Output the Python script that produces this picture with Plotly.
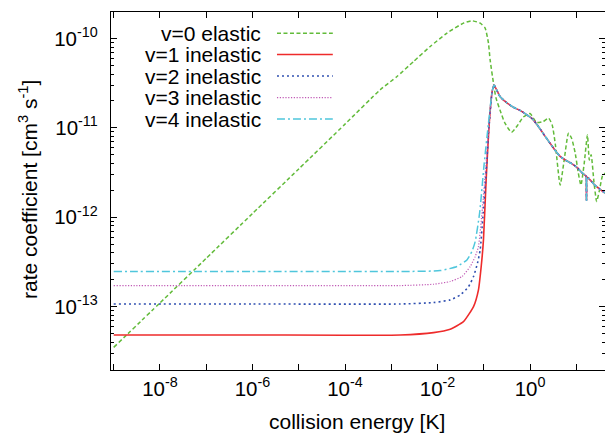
import plotly.graph_objects as go

# ---------------- data ----------------
elastic_E = [1e-9, 1e-8, 1e-7, 1e-6, 1e-5, 1e-4, 5.79e-4, 1.33e-3, 3.03e-3, 6.95e-3,
             1.596e-2, 3.65e-2, 5.53e-2, 8.36e-2, 0.107, 0.126, 0.137, 0.162, 0.182, 0.224,
             0.282, 0.398, 0.525, 0.708, 1.0, 1.38, 1.91, 2.51, 3.02,
             3.55, 4.47, 5.50, 6.76, 7.94, 9.44, 11.0, 12.6, 14.8, 17.4,
             19.1, 20.9, 24.0, 27.5, 31.6, 37.2, 44.7]
elastic_k = [3.50e-14, 1.10e-13, 3.47e-13, 1.10e-12, 3.47e-12, 1.10e-11, 2.67e-11, 3.75e-11, 5.52e-11, 8.13e-11,
             1.148e-10, 1.486e-10, 1.578e-10, 1.486e-10, 1.306e-10, 8.91e-11, 5.75e-11, 3.16e-11, 2.19e-11, 1.585e-11,
             1.148e-11, 8.91e-12, 1.047e-11, 1.318e-11, 1.445e-11, 1.148e-11, 1.175e-11, 1.288e-11, 1.072e-11,
             6.31e-12, 2.29e-12, 4.47e-12, 8.71e-12, 7.59e-12, 5.25e-12, 3.16e-12, 2.29e-12, 3.98e-12, 8.32e-12,
             4.37e-12, 5.01e-12, 2.51e-12, 1.50e-12, 2.0e-12, 2.95e-12, 3.16e-12]

# common high-energy tail shared by the inelastic curves
tail_E = [0.166, 0.224, 0.316, 0.437, 0.631, 0.851, 1.122, 1.514, 2.29, 3.47,
          4.47, 5.75, 7.94, 10.2, 13.2, 16.2, 16.6, 17.0, 25.1, 41.7]
tail_k = [3.02e-11, 2.24e-11, 1.905e-11, 1.70e-11, 1.55e-11, 1.40e-11, 1.26e-11, 1.035e-11, 7.59e-12, 5.62e-12,
          4.79e-12, 4.37e-12, 3.98e-12, 3.63e-12, 3.16e-12, 2.88e-12, 1.55e-12, 2.82e-12, 2.29e-12, 1.86e-12]

v1_E = [1e-9, 1e-6, 1.56e-3, 8.20e-3, 1.88e-2, 3.63e-2, 6.00e-2, 7.67e-2, 8.79e-2, 9.84e-2, 0.112, 0.129, 0.151]
v1_k = [4.82e-14, 4.82e-14, 4.82e-14, 5.12e-14, 5.58e-14, 6.79e-14, 1.0e-13, 1.54e-13, 2.81e-13, 5.62e-13, 2.51e-12, 1.0e-11, 2.51e-11]

v2_E = [1e-9, 1e-6, 1.56e-3, 8.20e-3, 1.88e-2, 3.09e-2, 4.68e-2, 6.00e-2, 7.31e-2, 8.36e-2, 9.55e-2, 0.112, 0.129, 0.151]
v2_k = [1.07e-13, 1.07e-13, 1.07e-13, 1.11e-13, 1.19e-13, 1.35e-13, 1.67e-13, 2.17e-13, 3.06e-13, 4.32e-13, 1.0e-12, 3.16e-12, 1.0e-11, 2.51e-11]

v3_E = [1e-9, 1e-6, 1.56e-3, 8.20e-3, 1.88e-2, 3.37e-2, 5.08e-2, 6.52e-2, 7.67e-2, 9.33e-2, 0.110, 0.129, 0.151]
v3_k = [1.72e-13, 1.72e-13, 1.72e-13, 1.78e-13, 1.91e-13, 2.17e-13, 2.81e-13, 3.63e-13, 4.70e-13, 1.26e-12, 3.55e-12, 1.0e-11, 2.51e-11]

v4_E = [1e-9, 1e-6, 1.56e-3, 1.14e-2, 2.62e-2, 4.32e-2, 5.53e-2, 6.52e-2, 8.13e-2, 0.102, 0.126, 0.151]
v4_k = [2.47e-13, 2.47e-13, 2.47e-13, 2.53e-13, 2.81e-13, 3.33e-13, 4.13e-13, 5.35e-13, 1.12e-12, 3.98e-12, 1.12e-11, 2.51e-11]

labels = ["v=0 elastic", "v=1 inelastic", "v=2 inelastic", "v=3 inelastic", "v=4 inelastic"]
colors = ["#62bb3a", "#ee2b2b", "#2f4fb0", "#c05ab5", "#4fc6dc"]
dashes = ["4px,2.5px", "solid", "2px,3px", "1.2px,1.6px", "8px,3px,2px,3px"]
widths = [1.5, 1.6, 1.6, 1.2, 1.5]

x_tick_vals = [1e-8, 1e-6, 1e-4, 1e-2, 1e0]
x_tick_text = ["10<sup>-8</sup>", "10<sup>-6</sup>", "10<sup>-4</sup>", "10<sup>-2</sup>", "10<sup>0</sup>"]
x_minor_vals = [1e-9, 1e-7, 1e-5, 1e-3, 1e-1, 1e1]
y_tick_vals = [1e-13, 1e-12, 1e-11, 1e-10]
y_tick_text = ["10<sup>-13</sup>", "10<sup>-12</sup>", "10<sup>-11</sup>", "10<sup>-10</sup>"]

FONT = "Liberation Sans, Arial, Helvetica, sans-serif"

series = [
    (elastic_E, elastic_k),
    (v1_E + tail_E, v1_k + tail_k),
    (v2_E + tail_E, v2_k + tail_k),
    (v3_E + tail_E, v3_k + tail_k),
    (v4_E + tail_E, v4_k + tail_k),
]

fig = go.Figure()
for (ex, ky), lab, col, dsh, w in zip(series, labels, colors, dashes, widths):
    fig.add_trace(go.Scatter(x=ex, y=ky, mode="lines", name=lab, showlegend=False,
                             line=dict(color=col, dash=dsh, width=w, shape="spline", smoothing=0.5)))

# gnuplot-style key: right-aligned text, sample line to its right
row_y = [0.9405, 0.8813, 0.8212, 0.7606, 0.7011]
for lab, col, dsh, w, yy in zip(labels, colors, dashes, widths, row_y):
    fig.add_annotation(x=0.3077, y=yy, xref="paper", yref="paper", text=lab,
                       showarrow=False, xanchor="right", yanchor="middle",
                       font=dict(family=FONT, size=21, color="black"))
    fig.add_shape(type="line", xref="paper", yref="paper", x0=0.336, x1=0.449, y0=yy, y1=yy,
                  line=dict(color=col, dash=dsh, width=w))

fig.add_annotation(x=0.498, y=-0.1425, xref="paper", yref="paper", text="collision energy [K]",
                   showarrow=False, xanchor="center", yanchor="middle",
                   font=dict(family=FONT, size=21, color="black"))
fig.add_annotation(x=-0.168, y=0.503, xref="paper", yref="paper",
                   text="rate coefficient [cm<sup>3</sup> s<sup>-1</sup>]", textangle=-90,
                   showarrow=False, xanchor="center", yanchor="middle",
                   font=dict(family=FONT, size=21, color="black"))

minor_y = [m * 10.0 ** e for e in range(-14, -9) for m in range(2, 10)]

fig.update_xaxes(type="log", range=[-9.058, 1.62], showgrid=False, zeroline=False,
                 showline=True, linecolor="black", linewidth=1.3, mirror="ticks",
                 ticks="inside", ticklen=6, tickwidth=1.2, tickcolor="black",
                 tickmode="array", tickvals=x_tick_vals, ticktext=x_tick_text,
                 tickfont=dict(family=FONT, size=20.5, color="black"),
                 minor=dict(ticks="inside", ticklen=6, tickwidth=1.2, tickcolor="black",
                            tickmode="array", tickvals=x_minor_vals, showgrid=False))
fig.update_yaxes(type="log", range=[-13.709, -9.704], showgrid=False, zeroline=False,
                 showline=True, linecolor="black", linewidth=1.3, mirror="ticks",
                 ticks="inside", ticklen=6, tickwidth=1.2, tickcolor="black",
                 tickmode="array", tickvals=y_tick_vals, ticktext=y_tick_text,
                 ticklabelstandoff=8,
                 tickfont=dict(family=FONT, size=20.5, color="black"),
                 minor=dict(ticks="inside", ticklen=3, tickwidth=1, tickcolor="black",
                            tickmode="array", tickvals=minor_y, showgrid=False))

fig.update_layout(width=605, height=436, margin=dict(l=111, r=0, t=12, b=66),
                  plot_bgcolor="white", paper_bgcolor="white",
                  font=dict(family=FONT, color="black"))

fig.write_html("out.html", config={"displayModeBar": False},
               post_script="document.body.style.margin='0px';")
